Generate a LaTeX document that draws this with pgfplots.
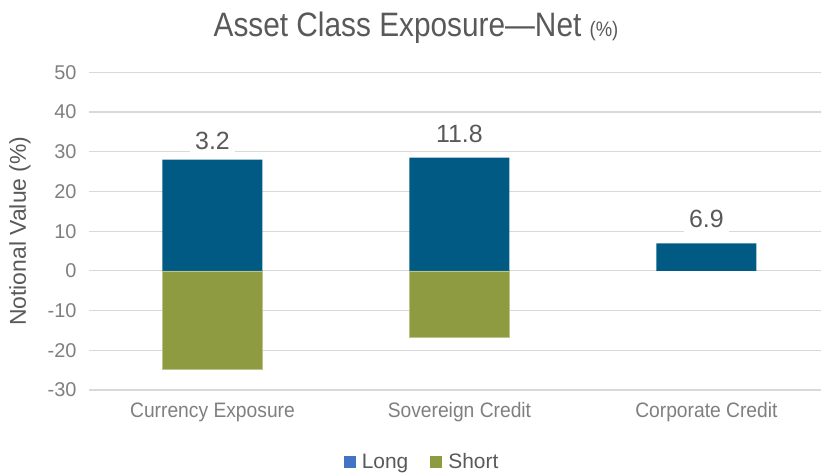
\documentclass[border=0pt]{standalone}
\usepackage{fontspec}
\setmainfont{Liberation Sans}
\newfontfamily\titlefont{Liberation Sans}[FakeStretch=0.88]
\newfontfamily\catfont{Liberation Sans}[FakeStretch=0.92]
\usepackage{pgfplots}
\pgfplotsset{compat=1.18}
\definecolor{barblue}{HTML}{005A84}
\definecolor{bargreen}{HTML}{8F9B41}
\definecolor{legblue}{HTML}{4472C4}
\definecolor{leggreen}{HTML}{8F9B3F}
\definecolor{gridgray}{HTML}{D9D9D9}
\definecolor{darkgray}{HTML}{595959}
\definecolor{tickgray}{HTML}{7F7F7F}
\begin{document}
\begin{tikzpicture}
\useasboundingbox (-89bp,-83bp) rectangle (732bp,390bp);
\begin{axis}[
  at={(0,0)}, anchor=south west,
  scale only axis, width=732bp, height=317.7bp,
  xmin=-0.5, xmax=2.464, ymin=-30, ymax=50,
  ytick={-30,-20,...,50},
  xtick={0,1,2},
  xticklabels={Currency Exposure, Sovereign Credit, Corporate Credit},
  ymajorgrids, grid style={draw=gridgray, line width=1.2bp},
  axis line style={draw=none},
  major tick length=0pt,
  /pgf/number format/assume math mode=true,
  yticklabel style={font=\fontsize{20}{22}\selectfont, text=tickgray, xshift=-9bp},
  xticklabel style={font=\catfont\fontsize{21}{23}\selectfont, text=tickgray, yshift=-9bp},
  ylabel={Notional Value (\%)},
  every axis y label/.style={at={(axis description cs:-0.0943,0.5)}, rotate=90, anchor=center, font=\fontsize{23}{25}\selectfont, text=darkgray},
  ybar, bar width=100bp, bar shift=0pt,
  legend style={at={(axis description cs:0.455,-0.2266)}, anchor=center, draw=none, fill=none,
    legend columns=2, font=\fontsize{21}{23}\selectfont, text=darkgray,
    /tikz/every even column/.append style={column sep=20bp}},
]
\addplot[fill=barblue, draw=none, forget plot] coordinates {(0,28.0) (1,28.5) (2,6.9)};
\addplot[fill=bargreen, draw=bargreen!60!white, line width=0.6bp, forget plot] coordinates {(0,-24.8) (1,-16.7)};
\addlegendimage{legend image code/.code={\fill[legblue, draw=none] (0bp,-6bp) rectangle (12bp,6bp); \path[draw=none, fill=none] (0bp,0bp) -- (16bp,0bp);}}
\addlegendentry{Long}
\addlegendimage{legend image code/.code={\fill[leggreen, draw=none] (0bp,-6bp) rectangle (12bp,6bp); \path[draw=none, fill=none] (0bp,0bp) -- (16bp,0bp);}}
\addlegendentry{Short}
\node[fill=white, inner xsep=5bp, inner ysep=5bp, text=darkgray, font=\fontsize{25}{27}\selectfont] at (axis cs:0,32.6) {3.2};
\node[fill=white, inner xsep=5bp, inner ysep=5bp, text=darkgray, font=\fontsize{25}{27}\selectfont] at (axis cs:1,34.6) {11.8};
\node[fill=white, inner xsep=5bp, inner ysep=5bp, text=darkgray, font=\fontsize{25}{27}\selectfont] at (axis cs:2,13.2) {6.9};
\end{axis}
\node[anchor=base, text=darkgray] at (327bp,353bp) {\titlefont\fontsize{34}{36}\selectfont Asset Class Exposure—Net {\fontsize{21}{23}\selectfont(\%)}};
\end{tikzpicture}
\end{document}
